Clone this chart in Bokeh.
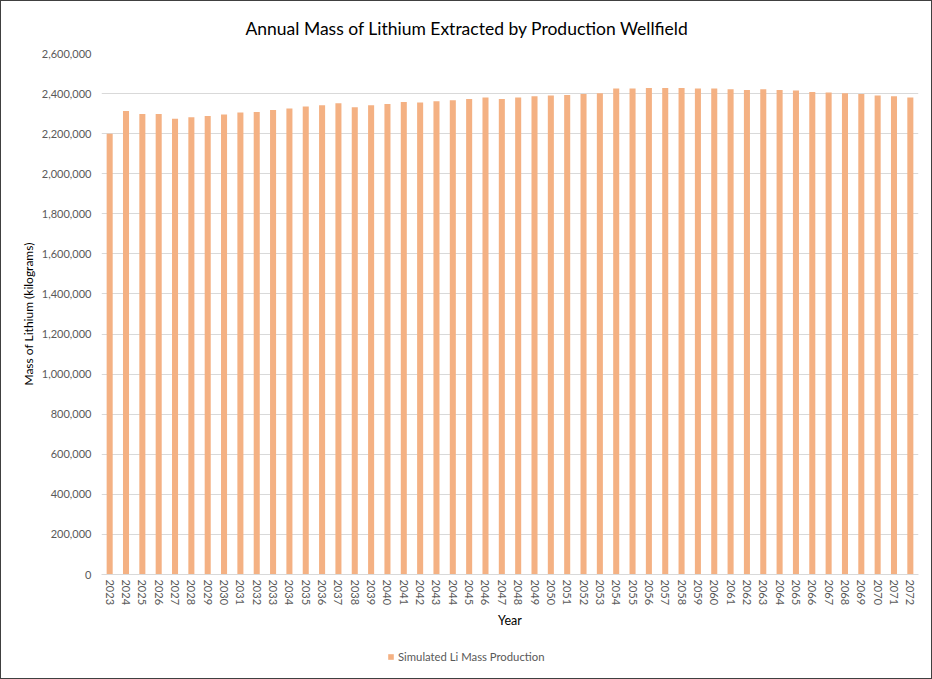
from bokeh.plotting import figure
from bokeh.layouts import column
from bokeh.models import FactorRange, Legend, LegendItem, NumeralTickFormatter, ColumnDataSource
from bokeh.embed import file_html
from bokeh.resources import INLINE

years = [str(y) for y in range(2023, 2073)]
mass_kg = [
    2200000, 2313000, 2298000, 2298000, 2275000, 2282000, 2288000, 2295000, 2305000, 2308000,
    2318000, 2325000, 2335000, 2342000, 2352000, 2332000, 2342000, 2348000, 2358000, 2355000,
    2362000, 2367000, 2373000, 2380000, 2373000, 2380000, 2387000, 2390000, 2393000, 2398000,
    2402000, 2425000, 2425000, 2428000, 2428000, 2428000, 2425000, 2425000, 2422000, 2418000,
    2422000, 2418000, 2415000, 2408000, 2405000, 2402000, 2398000, 2390000, 2387000, 2380000,
]
y_ticks = list(range(0, 2600001, 200000))
series_name = "Simulated Li Mass Production"
title_text = "Annual Mass of Lithium Extracted by Production Wellfield"

FONT = "Lato"
BAR = "#F4B183"

src = ColumnDataSource(dict(year=years, mass=mass_kg))

W = 930
H1 = 648
H2 = 29

p = figure(
    width=W, height=H1, output_backend="svg", toolbar_location=None,
    x_range=FactorRange(*years, range_padding=0.0), y_range=(0, 2600000),
    title=title_text,
    min_border_left=100, min_border_right=13, min_border_top=52, min_border_bottom=75,
)
p.title.align = "left"
p.title.offset = 144
p.title.text_font = FONT
p.title.text_font_size = "17.5px"
p.title.text_font_style = "normal"
p.title.text_color = "#000000"
p.title.standoff = 29

r = p.vbar(x="year", top="mass", width=0.37, source=src, fill_color=BAR, line_color=None)

p.xgrid.grid_line_color = None
p.ygrid.grid_line_color = "#D9D9D9"
p.ygrid.grid_line_width = 1
p.outline_line_color = None

p.yaxis.ticker = y_ticks
p.yaxis.formatter = NumeralTickFormatter(format="0,0")
p.yaxis.axis_line_color = None
p.yaxis.major_tick_line_color = None
p.yaxis.minor_tick_line_color = None
p.yaxis.major_tick_out = 0
p.yaxis.major_tick_in = 0
p.yaxis.major_label_standoff = 10
p.yaxis.major_label_text_font = FONT
p.yaxis.major_label_text_font_size = "11px"
p.yaxis.major_label_text_color = "#595959"
p.yaxis.axis_label = "Mass of Lithium (kilograms)"
p.yaxis.axis_label_text_font = FONT
p.yaxis.axis_label_text_font_size = "12px"
p.yaxis.axis_label_text_font_style = "normal"
p.yaxis.axis_label_text_color = "#000000"
p.yaxis.axis_label_standoff = 3

p.xaxis.axis_line_color = "#D9D9D9"
p.xaxis.major_tick_line_color = None
p.xaxis.minor_tick_line_color = None
p.xaxis.major_tick_out = 0
p.xaxis.major_tick_in = 0
p.xaxis.major_label_standoff = 5
p.xaxis.major_label_orientation = "vertical"
p.xaxis.major_label_text_font = FONT
p.xaxis.major_label_text_font_size = "11px"
p.xaxis.major_label_text_color = "#595959"
p.xaxis.axis_label = "Year"
p.xaxis.axis_label_text_font = FONT
p.xaxis.axis_label_text_font_size = "12.5px"
p.xaxis.axis_label_text_font_style = "normal"
p.xaxis.axis_label_text_color = "#000000"
p.xaxis.axis_label_standoff = 5

# legend strip below the chart (its own small canvas so the legend is not clipped)
p2 = figure(
    width=W, height=H2, output_backend="svg", toolbar_location=None,
    x_range=p.x_range, y_range=p.y_range, x_axis_type=None, y_axis_type=None,
    min_border=0,
)
p2.outline_line_color = None
r2 = p2.vbar(x="year", top="mass", width=0.37, source=src, fill_color=BAR,
             line_color=None, visible=False)

legend = Legend(items=[LegendItem(label=series_name, renderers=[r2])],
                orientation="horizontal", location=(286, 15))
legend.label_text_font = FONT
legend.label_text_font_size = "11.3px"
legend.label_text_color = "#595959"
legend.glyph_width = 7
legend.glyph_height = 7
legend.label_standoff = 4
legend.padding = 0
legend.margin = 0
legend.border_line_color = None
legend.background_fill_alpha = 0
p2.add_layout(legend)

layout = column(p, p2, spacing=0)
layout.styles = {"border": "1px solid #404040"}

open("out.html", "w").write(file_html(layout, INLINE))
